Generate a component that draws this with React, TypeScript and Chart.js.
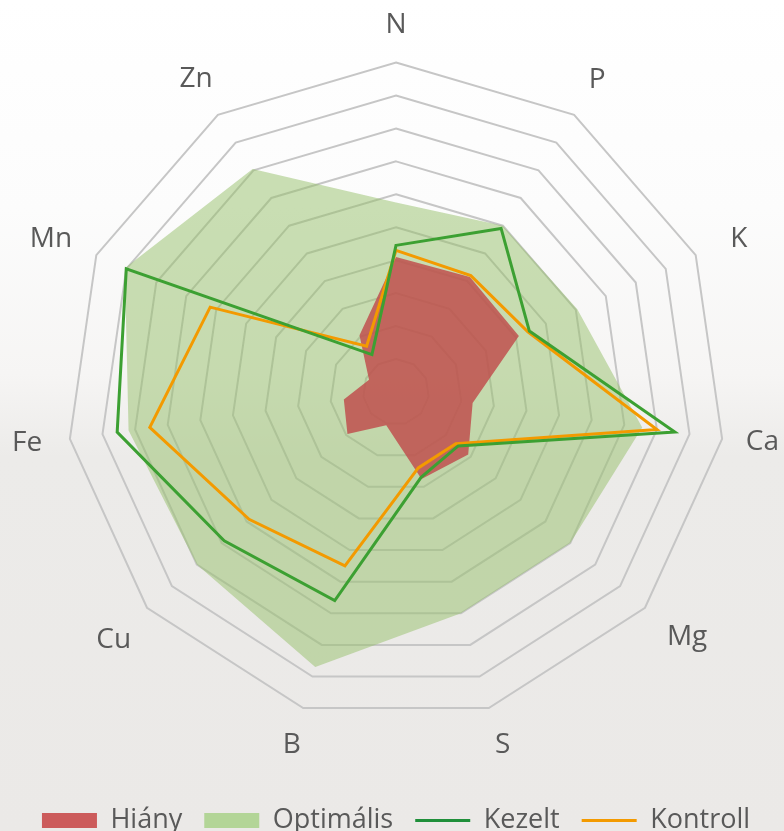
import React, { useEffect, useRef } from 'react';
import { Chart, registerables } from 'chart.js';

Chart.register(...registerables);

const labels = ['N', 'P', 'K', 'Ca', 'Mg', 'S', 'B', 'Cu', 'Fe', 'Mn', 'Zn'];
const hiany = [4.1, 4.15, 4.1, 2.35, 2.9, 2.75, 1.05, 1.95, 1.6, 0.9, 2.05];
const optimalis = [5.75, 6.0, 6.05, 7.55, 7.0, 7.0, 8.7, 8.0, 8.2, 9.05, 8.05];
const kezelt = [4.45, 5.9, 4.45, 8.55, 2.5, 2.7, 6.6, 6.9, 8.55, 9.0, 1.35];
const kontroll = [4.3, 4.2, 4.4, 8.0, 2.4, 2.4, 5.5, 5.9, 7.55, 6.2, 1.65];
const seriesNames = ['Hiány', 'Optimális', 'Kezelt', 'Kontroll'];
const scaleMax = 10;
const scaleStep = 1;

// label placement styling (per axis label: distance from outer ring, line box height factor)
const LABEL_PAD = [24, 27, 38, 24, 29, 22, 8, 21, 28, 26.5, 9.5];
const LABEL_LH = [1.0, 0.85, 0, 0, 0.72, 1.13, 2.06, 1.31, 0, 0.35, 1.99];

const RED_FILL = 'rgba(192, 80, 77, 0.85)';
const RED_LEGEND = '#cc5b5b';
const GREEN_FILL = 'rgba(150, 192, 105, 0.5)';
const GREEN_LEGEND = '#b3d597';
const GREEN_LINE = '#3ca032';
const ORANGE_LINE = '#f39a00';
const TEXT = '#595959';
const FONT = "'Open Sans', sans-serif";

export default function App() {
  const ref = useRef<HTMLCanvasElement | null>(null);

  useEffect(() => {
    if (!ref.current) return;
    const chart = new Chart(ref.current, {
      type: 'radar',
      data: {
        labels,
        datasets: [
          {
            label: seriesNames[0],
            data: hiany,
            backgroundColor: RED_FILL,
            borderWidth: 0,
            fill: true,
            pointRadius: 0,
            order: 2,
          },
          {
            label: seriesNames[1],
            data: optimalis,
            backgroundColor: GREEN_FILL,
            borderWidth: 0,
            fill: true,
            pointRadius: 0,
            order: 3,
          },
          {
            label: seriesNames[2],
            data: kezelt,
            borderColor: GREEN_LINE,
            backgroundColor: GREEN_LINE,
            borderWidth: 3,
            fill: false,
            pointRadius: 0,
            order: 0,
          },
          {
            label: seriesNames[3],
            data: kontroll,
            borderColor: ORANGE_LINE,
            backgroundColor: ORANGE_LINE,
            borderWidth: 3,
            fill: false,
            pointRadius: 0,
            order: 1,
          },
        ],
      },
      options: {
        animation: false,
        responsive: false,
        layout: { padding: { top: 0, left: 12, right: 4, bottom: -13 } },
        elements: { line: { tension: 0 } },
        scales: {
          r: {
            min: 0,
            max: scaleMax,
            ticks: { stepSize: scaleStep, display: false },
            grid: { color: '#c6c6c6', lineWidth: 2 },
            angleLines: { display: false },
            pointLabels: {
              color: TEXT,
              padding: (ctx: any) => LABEL_PAD[ctx.index] ?? 24,
              font: (ctx: any) => ({ family: FONT, size: 28, lineHeight: LABEL_LH[ctx.index] ?? 1 }),
            },
          },
        },
        plugins: {
          tooltip: { enabled: false },
          legend: {
            position: 'bottom',
            labels: {
              usePointStyle: true,
              pointStyleWidth: 55,
              boxHeight: 15,
              padding: 22,
              color: TEXT,
              font: { family: FONT, size: 27 },
              generateLabels: () => [
                { text: seriesNames[0], fillStyle: RED_LEGEND, strokeStyle: RED_LEGEND, lineWidth: 0, pointStyle: 'rect', hidden: false, datasetIndex: 0, fontColor: TEXT },
                { text: seriesNames[1], fillStyle: GREEN_LEGEND, strokeStyle: GREEN_LEGEND, lineWidth: 0, pointStyle: 'rect', hidden: false, datasetIndex: 1, fontColor: TEXT },
                { text: seriesNames[2], fillStyle: GREEN_LINE, strokeStyle: '#1f8f3a', lineWidth: 3, pointStyle: 'line', hidden: false, datasetIndex: 2, fontColor: TEXT },
                { text: seriesNames[3], fillStyle: ORANGE_LINE, strokeStyle: ORANGE_LINE, lineWidth: 3, pointStyle: 'line', hidden: false, datasetIndex: 3, fontColor: TEXT },
              ],
            },
          },
        },
      },
    } as any);
    return () => chart.destroy();
  }, []);

  return (
    <div
      style={{
        position: 'absolute',
        left: 0,
        top: 0,
        width: 784,
        height: 831,
        background:
          'linear-gradient(to bottom, #ffffff 0%, #fcfcfc 25%, #f6f5f4 45%, #ecebe9 55%, #ebe9e7 100%)',
      }}
    >
      <canvas ref={ref} width={784} height={831} style={{ display: 'block' }} />
    </div>
  );
}
